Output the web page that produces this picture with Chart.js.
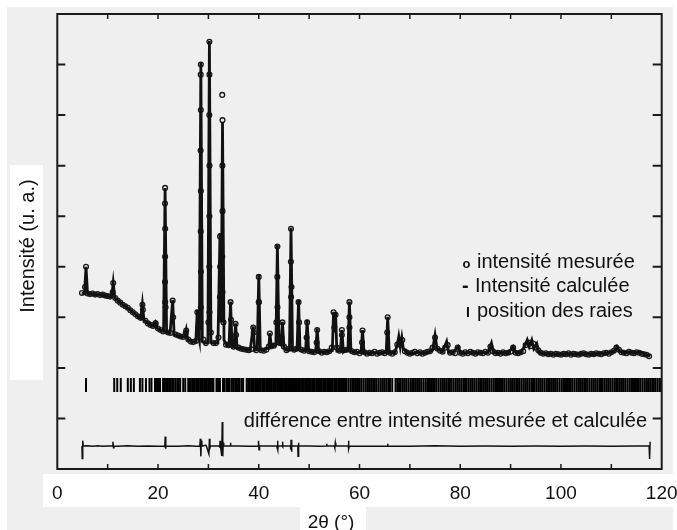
<!DOCTYPE html>
<html>
<head>
<meta charset="utf-8">
<script src="https://cdn.jsdelivr.net/npm/chart.js@4.4.1/dist/chart.umd.min.js"></script>
<style>
html,body{margin:0;padding:0;background:#fff;}
canvas{display:block;}
</style>
</head>
<body>
<canvas id="c" width="677" height="530"></canvas>
<script>
// ---- data (2θ in degrees, intensity in arbitrary units) ----
const xTickLabels = [0, 20, 40, 60, 80, 100, 120];

// calculated profile [2θ, intensity]
const calcProfile = [
 [4.85,3480],[5.4,3470],[5.7,4000],[6.0,3470],[7,3460],[8,3450],[9,3440],[10,3420],[10.8,3400],
 [11.1,3680],[11.4,3390],[12,3330],[13,3250],[13.8,3200],[15,3100],[16.1,3010],[16.6,2980],
 [16.9,3260],[17.2,2950],[18.4,2850],[19.2,2820],[19.5,2890],[19.8,2790],[20.4,2750],[21.1,2720],
 [21.4,5560],[21.7,2700],[22.4,2690],[22.9,3340],[23.2,2660],[24.5,2620],[25.3,2610],[25.6,2750],
 [25.9,2560],[26.8,2510],[27.5,2520],[27.8,3150],[28.1,2600],[28.2,2550],[28.5,8050],[28.8,2520],
 [29.3,2490],[29.9,2500],[30.2,8470],[30.5,2500],[31.1,2490],[31.9,2500],[32.3,4670],[32.55,2900],
 [32.8,6870],[33.1,2550],[33.6,2450],[34.1,2440],[34.4,3310],[34.7,2420],[35.1,2410],[35.4,2880],
 [35.7,2390],[36.3,2390],[37.5,2360],[38.3,2350],[38.9,2820],[39.2,2350],[39.7,2360],[40.0,3840],
 [40.3,2350],[40.9,2350],[42.0,2400],[42.2,2690],[42.5,2420],[43.4,2450],[43.7,4430],[44.0,2470],
 [44.4,2450],[44.7,2910],[45.0,2400],[45.5,2350],[46.1,2360],[46.4,4770],[46.7,2360],[47.2,2350],
 [47.6,2360],[47.9,3340],[48.2,2350],[48.7,2350],[49.3,2340],[49.6,2950],[49.9,2330],[50.7,2310],
 [51.3,2320],[51.6,2780],[51.9,2310],[53.5,2310],[54.6,2340],[54.85,3110],[55.1,2700],[55.25,3100],
 [55.5,2330],[56.2,2330],[56.5,2750],[56.8,2320],[57.1,2350],[57.7,2340],[58.0,3310],[58.3,2330],
 [59.1,2310],[60.3,2300],[60.6,2750],[60.9,2300],[62,2290],[63,2300],[64,2290],[65.3,2300],
 [65.6,3010],[65.9,2300],[67.0,2300],[67.5,2450],[67.8,2620],[68.1,2420],[68.4,2600],[68.7,2380],
 [69.5,2290],[70.5,2280],[71.5,2310],[72.5,2290],[73.5,2300],[74.5,2350],[75.0,2650],[75.4,2380],
 [76.5,2320],[77.3,2520],[77.7,2310],[78.5,2300],[79.6,2420],[80.0,2300],[81,2290],[82,2310],
 [83,2290],[84,2300],[85.5,2300],[86.2,2490],[86.6,2300],[87.5,2290],[88.5,2300],[89.5,2290],
 [90.5,2420],[91,2300],[92,2300],[92.9,2450],[93.3,2550],[93.7,2420],[94.2,2550],[94.6,2380],
 [95.2,2480],[95.6,2300],[97,2280],[98.5,2270],[100,2270],[101.5,2280],[103,2270],[104.5,2280],
 [106,2270],[107.5,2280],[109,2290],[110.5,2320],[111.1,2420],[111.6,2330],[112.5,2300],[113.7,2320],
 [114.5,2300],[115.7,2310],[116.5,2280],[117.7,2230]
];

// observed points [2θ, intensity]
const observedPoints = [
 [4.9,3480],[5.5,3600],[6.0,3470],[6.5,3460],[7.0,3470],[7.5,3450],[8.0,3460],[8.5,3440],[9.0,3450],
 [9.5,3430],[10.0,3420],[10.5,3410],[11.0,3500],[11.5,3380],[12.0,3330],[12.5,3290],[13.0,3250],
 [13.5,3220],[14.0,3190],[14.5,3140],[15.0,3100],[15.5,3060],[16.0,3020],[16.5,2990],[17.0,3150],
 [17.5,2930],[18.0,2880],[18.5,2850],[19.0,2830],[19.5,2880],[20.0,2780],[20.5,2750],[21.0,2720],
 [21.5,3200],[22.0,2700],[22.5,2690],[23.0,3000],[23.5,2660],[24.0,2640],[24.5,2620],[25.0,2610],
 [25.5,2690],[26.0,2560],[26.5,2520],[27.0,2510],[27.5,2530],[28.0,2800],[29.0,2560],[29.5,2490],
 [30.0,2900],[30.5,2700],[31.0,2490],[31.5,2490],[32.0,2600],[33.0,2900],[33.5,2460],[34.0,2450],
 [34.5,2950],[35.0,2420],[35.5,2650],[36.0,2400],[36.5,2380],[37.0,2370],[37.5,2360],[38.0,2350],
 [38.5,2370],[39.0,2700],[39.5,2350],[40.0,3300],[40.5,2350],[41.0,2340],[41.5,2360],[42.0,2420],
 [42.5,2430],[43.0,2440],[43.5,2900],[44.0,2500],[44.5,2600],[45.0,2420],[45.5,2350],[46.0,2380],
 [46.5,3600],[47.0,2360],[47.5,2380],[48.0,2900],[48.5,2360],[49.0,2340],[49.5,2600],[50.0,2330],
 [50.5,2320],[51.0,2310],[51.5,2500],[52.0,2330],[52.5,2300],[53.0,2320],[53.5,2310],[54.0,2330],
 [54.5,2400],[55.0,2800],[55.5,2400],[56.0,2340],[56.5,2650],[57.0,2350],[57.5,2360],[58.0,3000],
 [58.5,2330],[59.0,2310],[59.5,2320],[60.0,2290],[60.5,2500],[61.0,2310],[61.5,2280],[62.0,2300],
 [62.5,2290],[63.0,2320],[63.5,2280],[64.0,2300],[64.5,2310],[65.0,2290],[65.5,2700],[66.0,2300],
 [66.5,2280],[67.0,2310],[67.5,2460],[68.0,2520],[68.5,2550],[69.0,2330],[69.5,2300],[70.0,2280],
 [70.5,2300],[71.0,2320],[71.5,2290],[72.0,2310],[72.5,2280],[73.0,2300],[73.5,2320],[74.0,2330],
 [74.5,2400],[75.0,2600],[75.5,2380],[76.0,2340],[76.5,2320],[77.0,2400],[77.5,2450],[78.0,2300],
 [78.5,2310],[79.0,2290],[79.5,2400],[80.0,2300],[80.5,2280],[81.0,2310],[81.5,2290],[82.0,2320],
 [82.5,2300],[83.0,2280],[83.5,2310],[84.0,2300],[84.5,2290],[85.0,2320],[85.5,2300],[86.0,2420],
 [86.5,2330],[87.0,2290],[87.5,2300],[88.0,2280],[88.5,2310],[89.0,2290],[89.5,2300],[90.0,2320],
 [90.5,2400],[91.0,2300],[91.5,2290],[92.0,2310],[92.5,2330],[93.0,2450],[93.5,2500],[94.0,2430],
 [94.5,2480],[95.0,2400],[95.5,2350],[96.0,2300],[96.5,2280],[97.0,2290],[97.5,2270],[98.0,2280],
 [98.5,2260],[99.0,2280],[99.5,2270],[100.0,2260],[100.5,2280],[101.0,2270],[101.5,2290],[102.0,2260],
 [102.5,2280],[103.0,2270],[103.5,2260],[104.0,2280],[104.5,2290],[105.0,2270],[105.5,2260],[106.0,2280],
 [106.5,2270],[107.0,2290],[107.5,2280],[108.0,2270],[108.5,2290],[109.0,2300],[109.5,2280],[110.0,2310],
 [110.5,2340],[111.0,2400],[111.5,2360],[112.0,2310],[112.5,2300],[113.0,2290],[113.5,2320],[114.0,2300],
 [114.5,2290],[115.0,2310],[115.5,2300],[116.0,2280],[116.5,2270],[117.0,2260],[117.5,2230],
 [5.7,4000],[11.1,3680],[16.9,3250],[19.5,2880],[22.9,3330],[25.6,2740],[27.8,3100],
 [21.4,5560],[21.38,5250],[21.42,4750],[21.4,4200],[21.38,3700],[21.42,3300],
 [28.5,8000],[28.48,7800],[28.5,7100],[28.46,6300],[28.5,5500],[28.48,4700],[28.52,3900],[28.5,3200],[28.4,2900],
 [30.2,8450],[30.2,7800],[30.18,7000],[30.22,6000],[30.2,5000],[30.18,4000],[30.22,3100],
 [32.75,7400],[32.8,6900],[32.78,6000],[32.8,5100],[32.75,4200],[32.8,3500],[32.3,4600],[32.32,4000],[32.28,3400],
 [34.4,3300],[35.4,2870],[38.9,2800],[40.0,3800],[40.02,3300],[42.2,2680],
 [43.7,4400],[43.68,3800],[43.72,3200],[44.7,2900],[46.4,4750],[46.38,4100],[46.42,3400],
 [47.9,3300],[49.6,2900],[51.6,2750],[54.85,3100],[55.25,3050],[56.5,2750],[58.0,3300],[58.0,2800],
 [60.6,2740],[65.6,3000]
];

// Bragg reflection positions (2θ)
const reflectionPositions = [
 5.7, 11.3, 11.9, 12.6, 14.0, 14.6, 15.2, 16.4, 16.9, 17.6, 18.3, 18.7, 19.4, 19.8, 20.1, 20.4,
 21.0, 21.3, 21.6, 21.9, 22.2, 22.5, 22.8, 23.0, 23.4, 23.8, 24.1, 24.4, 25.0, 25.4, 26.0, 26.25,
 26.5, 26.8, 27.05, 27.3, 27.6, 27.85, 28.1, 28.4, 28.65, 28.9, 29.2, 29.45, 29.7, 30.0, 30.25, 30.5,
 30.8, 31.0, 31.6, 31.9, 32.3, 32.9, 33.2, 33.6, 33.9, 34.2, 34.6, 34.9, 35.3, 35.6, 35.9, 36.2,
 36.6, 36.9, 37.6, 37.9, 38.2, 38.5, 38.75, 39.0, 39.3, 39.6, 39.85, 40.1, 40.4, 40.7, 40.95, 41.2,
 41.5, 41.8, 42.05, 42.3, 42.6, 42.9, 43.15, 43.4, 43.7, 44.0, 44.25, 44.5, 44.8, 45.1, 45.35, 45.6,
 45.9, 46.2, 46.45, 46.7, 47.0, 47.3, 47.55, 47.8, 48.1, 48.4, 48.65, 48.9, 49.2, 49.5, 49.75, 50.0,
 50.3, 50.6, 50.85, 51.1, 51.4, 51.7, 51.95, 52.2, 52.5, 52.8, 53.05, 53.3, 53.6, 53.9, 54.15, 54.4,
 54.7, 55.0, 55.25, 55.5, 55.8, 56.1, 56.35, 56.6, 56.9, 57.15,
 57.4, 57.8, 58.2, 58.55, 58.9, 59.3, 59.7, 60.05, 60.4, 60.8, 61.2, 61.55, 61.9, 62.3, 62.7, 63.05,
 63.4, 63.8, 64.2, 64.55, 64.9, 65.3, 65.7, 66.05, 66.5, 67.15, 67.5, 67.85, 68.2, 68.6, 68.95, 69.3,
 69.7, 70.1, 70.45, 70.8, 71.2, 71.6, 71.95, 72.3, 72.7, 73.1, 73.45, 73.8, 74.2, 74.6, 74.95, 75.3,
 75.7, 76.1, 76.45, 76.8, 77.2, 77.6, 77.95, 78.3, 78.7, 79.1, 79.45, 79.8, 80.2, 80.6, 80.95, 81.3,
 81.7, 82.1, 82.45, 82.8, 83.2, 83.6, 83.95, 84.3, 84.7, 85.1, 85.45, 85.8, 86.2, 86.6, 86.95, 87.3,
 87.7, 88.1, 88.45, 88.8, 89.2, 89.6, 89.95, 90.3, 90.7, 91.1, 91.45, 91.8, 92.2, 92.6, 92.95, 93.3,
 93.7, 94.1, 94.45, 94.8, 95.2, 95.6, 95.95, 96.3, 96.7, 97.1, 97.45, 97.8, 98.2, 98.6, 98.95, 99.3,
 99.7, 100.1, 100.45, 100.8, 101.2, 101.6, 101.95, 102.3, 102.7, 103.1, 103.45, 103.8, 104.2, 104.6,
 104.95, 105.3, 105.7, 106.1, 106.45, 106.8, 107.2, 107.6, 107.95, 108.3, 108.7, 109.1, 109.45, 109.8,
 110.2, 110.6, 110.95, 111.3, 111.7, 112.1, 112.45, 112.8, 113.2, 113.6, 113.95, 114.3, 114.7, 115.1,
 115.45, 115.8, 116.2, 116.6, 116.95, 117.3, 117.7, 118.1, 118.45, 118.8, 119.2, 119.6, 119.9
];
const reflectionLevel = 1660; // vertical level of the reflection markers

// difference curve (observed - calculated, offset) [2θ, value]
const differenceCurve = [
 [4.9,455],[4.95,210],[5.05,560],[5.15,455],[6,462],[7,448],[8,458],[9,450],[10,456],[11,455],
 [11.05,540],[11.15,420],[11.25,455],[12,452],[14,458],[16,450],[18,456],[20,452],[21.3,455],
 [21.35,430],[21.42,640],[21.5,400],[21.58,455],[24,450],[26,458],[27.5,452],[28.3,455],[28.4,600],
 [28.5,250],[28.6,560],[28.7,455],[29.5,470],[29.6,455],[30.1,300],[30.2,600],[30.3,420],[30.4,455],
 [32.2,455],[32.25,420],[32.32,560],[32.4,455],[32.65,260],[32.75,930],[32.85,250],[32.95,520],
 [33.05,455],[34.35,455],[34.4,520],[34.45,455],[36,455],[38,450],[39.9,455],[39.95,560],[40.05,380],
 [40.15,455],[43.6,455],[43.65,420],[43.72,560],[43.8,380],[43.88,455],[44.65,455],[44.7,540],
 [44.75,440],[44.8,455],[46.3,455],[46.35,380],[46.42,580],[46.5,340],[46.58,455],[47.75,455],
 [47.8,250],[47.88,520],[47.95,455],[50,455],[52,450],[53.45,455],[53.5,500],[53.55,455],[55,455],
 [55.1,420],[55.2,520],[55.3,455],[57.75,455],[57.8,560],[57.9,400],[58,455],[62,452],[65.55,455],
 [65.6,500],[65.65,455],[70,452],[75,458],[80,450],[85,456],[90,452],[95,456],[100,452],[105,455],
 [110,452],[115,455],[117.5,460],[117.6,200],[117.7,540]
];

const legendLabels = ['intensité mesurée', 'Intensité calculée', 'position des raies'];
const differenceLabel = 'différence entre intensité mesurée et calculée';
const xTitle = '2θ (°)';
const yTitle = 'Intensité (u. a.)';

// ---- chart ----
const FONT = '"Liberation Sans", Arial, Helvetica, sans-serif';
Chart.defaults.font.family = FONT;
Chart.defaults.color = '#111';

const toXY = arr => arr.map(p => ({x: p[0], y: p[1]}));

const decorPlugin = {
  id: 'decor',
  beforeDraw(chart) {
    const ctx = chart.ctx;
    ctx.save();
    ctx.fillStyle = '#ffffff';
    ctx.fillRect(0, 0, chart.width, chart.height);
    ctx.fillStyle = '#efefef';
    ctx.fillRect(7, 7, chart.width - 11, chart.height - 7);
    ctx.fillStyle = '#ffffff';
    ctx.fillRect(10, 165, 33, 215);      // y title box
    ctx.fillRect(43, 474, chart.width - 43, 33); // x tick label box
    ctx.fillRect(300, 507, 66, 23);      // x title box
    // y title
    ctx.fillStyle = '#111';
    ctx.font = '20px ' + FONT;
    ctx.textAlign = 'center';
    ctx.textBaseline = 'middle';
    ctx.translate(28, 246);
    ctx.rotate(-Math.PI / 2);
    ctx.fillText(yTitle, 0, 0);
    ctx.restore();
  },
  afterDraw(chart) {
    const ctx = chart.ctx;
    const a = chart.chartArea;
    const xs = chart.scales.x, ys = chart.scales.y;
    ctx.save();
    ctx.strokeStyle = '#1a1a1a';
    // ticks
    ctx.lineWidth = 1.5;
    for (let v = 10; v < 120; v += 10) {
      const px = xs.getPixelForValue(v);
      ctx.beginPath();
      ctx.moveTo(px, a.bottom); ctx.lineTo(px, a.bottom - 5);
      ctx.moveTo(px, a.top); ctx.lineTo(px, a.top + 5);
      ctx.stroke();
    }
    ctx.lineWidth = 2;
    for (let v = 1000; v < 9000; v += 1000) {
      const py = ys.getPixelForValue(v);
      ctx.beginPath();
      ctx.moveTo(a.left, py); ctx.lineTo(a.left + 8, py);
      ctx.moveTo(a.right, py); ctx.lineTo(a.right - 9, py);
      ctx.stroke();
    }
    // frame
    ctx.lineWidth = 2;
    ctx.strokeRect(a.left, a.top, a.right - a.left, a.bottom - a.top);

    // legend texts
    ctx.fillStyle = '#111';
    ctx.textBaseline = 'alphabetic';
    ctx.textAlign = 'left';
    ctx.font = '20px ' + FONT;
    ctx.fillText(legendLabels[0], 477, 268);
    ctx.fillText(legendLabels[1], 475, 292);
    ctx.fillText(legendLabels[2], 477, 316.5);
    ctx.font = 'bold 13px ' + FONT;
    ctx.fillText('o', 462.5, 268);
    ctx.font = 'bold 20px ' + FONT;
    ctx.fillText('-', 462, 292);
    ctx.font = 'bold 14px ' + FONT;
    ctx.fillText('I', 466, 316.5);

    ctx.font = '20px ' + FONT;
    ctx.textAlign = 'right';
    ctx.fillText(differenceLabel, 647, 427);

    ctx.font = '19px ' + FONT;
    ctx.textAlign = 'center';
    ctx.fillText(xTitle, 331, 528);
    ctx.restore();
  }
};

new Chart(document.getElementById('c'), {
  type: 'scatter',
  data: {
    datasets: [
      {
        label: 'Intensité calculée',
        data: toXY(calcProfile),
        showLine: true,
        borderColor: '#111',
        borderWidth: 2.8,
        pointRadius: 0,
        tension: 0
      },
      {
        label: 'intensité mesurée',
        data: toXY(observedPoints),
        showLine: false,
        pointStyle: 'circle',
        pointRadius: 2.4,
        pointBorderWidth: 1.3,
        pointBorderColor: '#1a1a1a',
        pointBackgroundColor: 'rgba(0,0,0,0)'
      },
      {
        label: 'position des raies',
        data: reflectionPositions.map(x => ({x: x, y: reflectionLevel})),
        showLine: false,
        pointStyle: 'line',
        rotation: 90,
        pointRadius: 7,
        pointBorderWidth: 2,
        pointBorderColor: '#000'
      },
      {
        label: 'différence',
        data: toXY(differenceCurve),
        showLine: true,
        borderColor: '#111',
        borderWidth: 1.5,
        pointRadius: 0,
        tension: 0
      }
    ]
  },
  options: {
    responsive: false,
    animation: false,
    devicePixelRatio: 1,
    layout: { padding: { left: 12, top: 14, right: 15.3, bottom: 21 } },
    plugins: { legend: { display: false }, tooltip: { enabled: false } },
    scales: {
      x: {
        type: 'linear',
        min: 0, max: 120,
        grid: { display: false },
        border: { display: false },
        ticks: {
          stepSize: 20,
          padding: 5,
          font: { size: 19 },
          color: '#111',
          maxRotation: 0,
          callback: (v) => xTickLabels.includes(v) ? String(v) : ''
        },
        afterFit(scale) { scale.height = 40; scale.paddingLeft = 0; scale.paddingRight = 0; }
      },
      y: {
        min: 0, max: 9000,
        grid: { display: false },
        border: { display: false },
        ticks: { display: false, stepSize: 1000 },
        title: { display: false },
        afterFit(scale) { scale.width = 45.3; }
      }
    }
  },
  plugins: [decorPlugin]
});
</script>
</body>
</html>
